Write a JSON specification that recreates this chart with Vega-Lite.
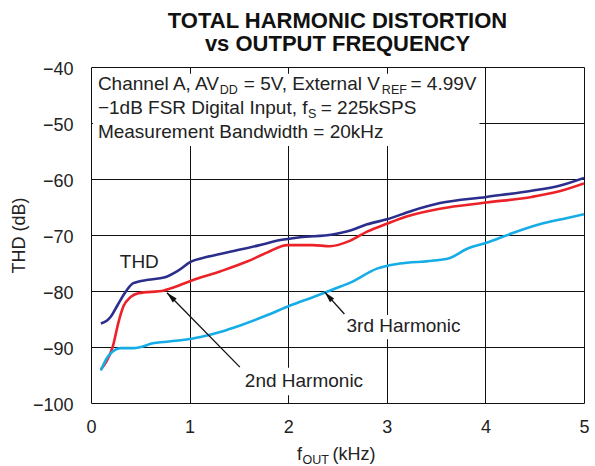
{
  "$schema": "https://vega.github.io/schema/vega-lite/v6.json",
  "width": 493,
  "height": 336,
  "autosize": "none",
  "padding": {"left": 91, "top": 67, "right": 11, "bottom": 63},
  "background": "white",
  "config": {
    "font": "Liberation Sans",
    "view": {"stroke": null},
    "axis": {"domain": false, "ticks": false, "gridColor": "#111", "gridWidth": 1, "gridOpacity": 1,
             "labelFont": "Liberation Sans", "labelFontSize": 18, "labelColor": "#222",
             "titleFont": "Liberation Sans", "titleFontSize": 18, "titleFontWeight": "normal", "titleColor": "#222"}
  },
  "title": {
    "text": ["TOTAL HARMONIC DISTORTION", "vs OUTPUT FREQUENCY"],
    "fontSize": 22, "fontWeight": "bold", "font": "Liberation Sans", "color": "#111",
    "anchor": "middle", "frame": "group", "offset": 4, "lineHeight": 23
  },
  "datasets": {
    "curves": [
      {"f": 0.10, "db": -85.8, "series": "THD"},
      {"f": 0.16, "db": -85.3, "series": "THD"},
      {"f": 0.20, "db": -84.6, "series": "THD"},
      {"f": 0.27, "db": -82.5, "series": "THD"},
      {"f": 0.33, "db": -80.7, "series": "THD"},
      {"f": 0.43, "db": -78.6, "series": "THD"},
      {"f": 0.58, "db": -78.0, "series": "THD"},
      {"f": 0.74, "db": -77.6, "series": "THD"},
      {"f": 0.88, "db": -76.4, "series": "THD"},
      {"f": 1.01, "db": -74.8, "series": "THD"},
      {"f": 1.18, "db": -73.9, "series": "THD"},
      {"f": 1.41, "db": -73.0, "series": "THD"},
      {"f": 1.69, "db": -71.9, "series": "THD"},
      {"f": 1.92, "db": -70.9, "series": "THD"},
      {"f": 2.12, "db": -70.4, "series": "THD"},
      {"f": 2.45, "db": -69.9, "series": "THD"},
      {"f": 2.63, "db": -69.2, "series": "THD"},
      {"f": 2.80, "db": -68.1, "series": "THD"},
      {"f": 3.00, "db": -67.2, "series": "THD"},
      {"f": 3.25, "db": -65.7, "series": "THD"},
      {"f": 3.54, "db": -64.3, "series": "THD"},
      {"f": 4.01, "db": -63.2, "series": "THD"},
      {"f": 4.47, "db": -62.1, "series": "THD"},
      {"f": 4.75, "db": -61.2, "series": "THD"},
      {"f": 5.00, "db": -59.8, "series": "THD"},
      {"f": 0.10, "db": -94.0, "series": "2nd"},
      {"f": 0.16, "db": -92.5, "series": "2nd"},
      {"f": 0.22, "db": -90.0, "series": "2nd"},
      {"f": 0.28, "db": -85.5, "series": "2nd"},
      {"f": 0.33, "db": -82.7, "series": "2nd"},
      {"f": 0.40, "db": -81.1, "series": "2nd"},
      {"f": 0.48, "db": -80.4, "series": "2nd"},
      {"f": 0.74, "db": -79.9, "series": "2nd"},
      {"f": 0.88, "db": -79.1, "series": "2nd"},
      {"f": 1.01, "db": -78.2, "series": "2nd"},
      {"f": 1.31, "db": -76.5, "series": "2nd"},
      {"f": 1.59, "db": -74.7, "series": "2nd"},
      {"f": 1.79, "db": -73.1, "series": "2nd"},
      {"f": 1.99, "db": -71.8, "series": "2nd"},
      {"f": 2.25, "db": -71.8, "series": "2nd"},
      {"f": 2.42, "db": -72.0, "series": "2nd"},
      {"f": 2.63, "db": -71.0, "series": "2nd"},
      {"f": 2.80, "db": -69.4, "series": "2nd"},
      {"f": 3.00, "db": -68.0, "series": "2nd"},
      {"f": 3.20, "db": -66.7, "series": "2nd"},
      {"f": 3.54, "db": -65.3, "series": "2nd"},
      {"f": 4.01, "db": -64.2, "series": "2nd"},
      {"f": 4.47, "db": -63.2, "series": "2nd"},
      {"f": 4.75, "db": -62.2, "series": "2nd"},
      {"f": 5.00, "db": -60.8, "series": "2nd"},
      {"f": 0.10, "db": -94.2, "series": "3rd"},
      {"f": 0.16, "db": -92.0, "series": "3rd"},
      {"f": 0.22, "db": -90.8, "series": "3rd"},
      {"f": 0.30, "db": -90.2, "series": "3rd"},
      {"f": 0.43, "db": -90.2, "series": "3rd"},
      {"f": 0.64, "db": -89.3, "series": "3rd"},
      {"f": 0.91, "db": -88.8, "series": "3rd"},
      {"f": 1.11, "db": -88.2, "series": "3rd"},
      {"f": 1.31, "db": -87.3, "series": "3rd"},
      {"f": 1.52, "db": -86.1, "series": "3rd"},
      {"f": 1.79, "db": -84.3, "series": "3rd"},
      {"f": 2.02, "db": -82.6, "series": "3rd"},
      {"f": 2.25, "db": -81.1, "series": "3rd"},
      {"f": 2.53, "db": -79.2, "series": "3rd"},
      {"f": 2.63, "db": -78.5, "series": "3rd"},
      {"f": 2.90, "db": -76.0, "series": "3rd"},
      {"f": 3.13, "db": -75.1, "series": "3rd"},
      {"f": 3.46, "db": -74.6, "series": "3rd"},
      {"f": 3.64, "db": -74.1, "series": "3rd"},
      {"f": 3.81, "db": -72.5, "series": "3rd"},
      {"f": 4.01, "db": -71.4, "series": "3rd"},
      {"f": 4.27, "db": -69.7, "series": "3rd"},
      {"f": 4.55, "db": -68.1, "series": "3rd"},
      {"f": 4.82, "db": -67.0, "series": "3rd"},
      {"f": 5.00, "db": -66.3, "series": "3rd"}
    ],
    "boxes": [
      {"x1": 0.02, "x2": 3.94, "y1": -41.2, "y2": -54.1},
      {"x1": 1.54, "x2": 2.82, "y1": -93.7, "y2": -98.6},
      {"x1": 2.57, "x2": 3.80, "y1": -84.3, "y2": -88.6}
    ],
    "arrows": [
      {"name": "2nd", "x": 1.51, "y": -93.6, "x2": 0.77, "y2": -80.3},
      {"name": "3rd", "x": 2.57, "y": -84.1, "x2": 2.37, "y2": -80.2}
    ],
    "lefttexts": [
      {"t": "Channel A, AV", "x": 0.07, "y": -43.1},
      {"t": "= 5V, External V", "x": 1.55, "y": -43.1},
      {"t": "= 4.99V", "x": 3.24, "y": -43.1},
      {"t": "\u22121dB FSR Digital Input, f", "x": 0.07, "y": -47.4},
      {"t": "= 225kSPS", "x": 2.33, "y": -47.4},
      {"t": "Measurement Bandwidth = 20kHz", "x": 0.07, "y": -51.6}
    ],
    "centertexts": [
      {"t": "THD", "x": 0.49, "y": -74.8},
      {"t": "2nd Harmonic", "x": 2.16, "y": -96.1},
      {"t": "3rd Harmonic", "x": 3.17, "y": -86.3}
    ],
    "subs": [
      {"t": "DD", "x": 1.305, "y": -43.1},
      {"t": "REF", "x": 2.95, "y": -43.1},
      {"t": "S", "x": 2.2, "y": -47.4}
    ],
    "xtitle": [
      {"t": "f", "x": 2.09, "y": -109.2, "s": "n"},
      {"t": "OUT", "x": 2.145, "y": -109.2, "s": "s"},
      {"t": "(kHz)", "x": 2.45, "y": -109.2, "s": "n"}
    ]
  },
  "layer": [
    {
      "data": {"name": "curves"},
      "mark": {"type": "line", "strokeWidth": 2.6, "interpolate": "monotone", "clip": true},
      "encoding": {
        "x": {"field": "f", "type": "quantitative", "scale": {"domain": [0, 5], "nice": false},
              "axis": {"values": [0, 1, 2, 3, 4, 5], "title": null, "labelPadding": 15, "format": "d", "labelFlush": false}},
        "y": {"field": "db", "type": "quantitative", "scale": {"domain": [-100, -40], "nice": false, "zero": false},
              "axis": {"values": [-100, -90, -80, -70, -60, -50, -40], "title": "THD (dB)", "labelPadding": 18, "labelOffset": 2,
                       "titleAngle": -90, "titleX": -72, "titleY": 168, "titleAlign": "center", "titleBaseline": "middle"}},
        "color": {"field": "series", "type": "nominal", "legend": null,
                  "scale": {"domain": ["THD", "2nd", "3rd"], "range": ["#2b2e8c", "#ec2229", "#16ace6"]}},
        "order": {"field": "f", "type": "quantitative"}
      }
    },
    {
      "data": {"name": "boxes"},
      "mark": {"type": "rect", "fill": "white"},
      "encoding": {
        "x": {"field": "x1", "type": "quantitative"},
        "x2": {"field": "x2"},
        "y": {"field": "y1", "type": "quantitative"},
        "y2": {"field": "y2"}
      }
    },
    {
      "data": {"name": "arrows"},
      "mark": {"type": "rule", "color": "#111", "strokeWidth": 1.3},
      "encoding": {
        "x": {"field": "x", "type": "quantitative"},
        "y": {"field": "y", "type": "quantitative"},
        "x2": {"field": "x2"},
        "y2": {"field": "y2"}
      }
    },
    {
      "data": {"name": "arrows"},
      "transform": [{"filter": "datum.name === '2nd'"}],
      "mark": {"type": "point", "filled": true, "color": "#111", "opacity": 1, "size": 100, "angle": 315,
               "shape": "M0,0L0.55,2.2L-0.55,2.2Z"},
      "encoding": {
        "x": {"field": "x2", "type": "quantitative"},
        "y": {"field": "y2", "type": "quantitative"}
      }
    },
    {
      "data": {"name": "arrows"},
      "transform": [{"filter": "datum.name === '3rd'"}],
      "mark": {"type": "point", "filled": true, "color": "#111", "opacity": 1, "size": 100, "angle": 318,
               "shape": "M0,0L0.55,2.2L-0.55,2.2Z"},
      "encoding": {
        "x": {"field": "x2", "type": "quantitative"},
        "y": {"field": "y2", "type": "quantitative"}
      }
    },
    {
      "data": {"name": "lefttexts"},
      "mark": {"type": "text", "fontSize": 19, "color": "#222", "baseline": "middle", "align": "left"},
      "encoding": {
        "x": {"field": "x", "type": "quantitative"},
        "y": {"field": "y", "type": "quantitative"},
        "text": {"field": "t"}
      }
    },
    {
      "data": {"name": "centertexts"},
      "mark": {"type": "text", "fontSize": 19, "color": "#222", "baseline": "middle", "align": "center"},
      "encoding": {
        "x": {"field": "x", "type": "quantitative"},
        "y": {"field": "y", "type": "quantitative"},
        "text": {"field": "t"}
      }
    },
    {
      "data": {"name": "subs"},
      "mark": {"type": "text", "fontSize": 12.5, "color": "#222", "baseline": "middle", "align": "left", "dy": 6},
      "encoding": {
        "x": {"field": "x", "type": "quantitative"},
        "y": {"field": "y", "type": "quantitative"},
        "text": {"field": "t"}
      }
    },
    {
      "data": {"name": "xtitle"},
      "transform": [{"filter": "datum.s === 'n'"}],
      "mark": {"type": "text", "fontSize": 18, "color": "#222", "baseline": "middle", "align": "left", "clip": false},
      "encoding": {
        "x": {"field": "x", "type": "quantitative"},
        "y": {"field": "y", "type": "quantitative"},
        "text": {"field": "t"}
      }
    },
    {
      "data": {"name": "xtitle"},
      "transform": [{"filter": "datum.s === 's'"}],
      "mark": {"type": "text", "fontSize": 12.5, "color": "#222", "baseline": "middle", "align": "left", "dy": 5, "clip": false},
      "encoding": {
        "x": {"field": "x", "type": "quantitative"},
        "y": {"field": "y", "type": "quantitative"},
        "text": {"field": "t"}
      }
    },
    {
      "mark": {"type": "rect", "fill": null, "stroke": "#111", "strokeWidth": 2.6},
      "encoding": {
        "x": {"datum": 0, "type": "quantitative"},
        "x2": {"datum": 5},
        "y": {"datum": -100, "type": "quantitative"},
        "y2": {"datum": -40}
      }
    }
  ]
}
